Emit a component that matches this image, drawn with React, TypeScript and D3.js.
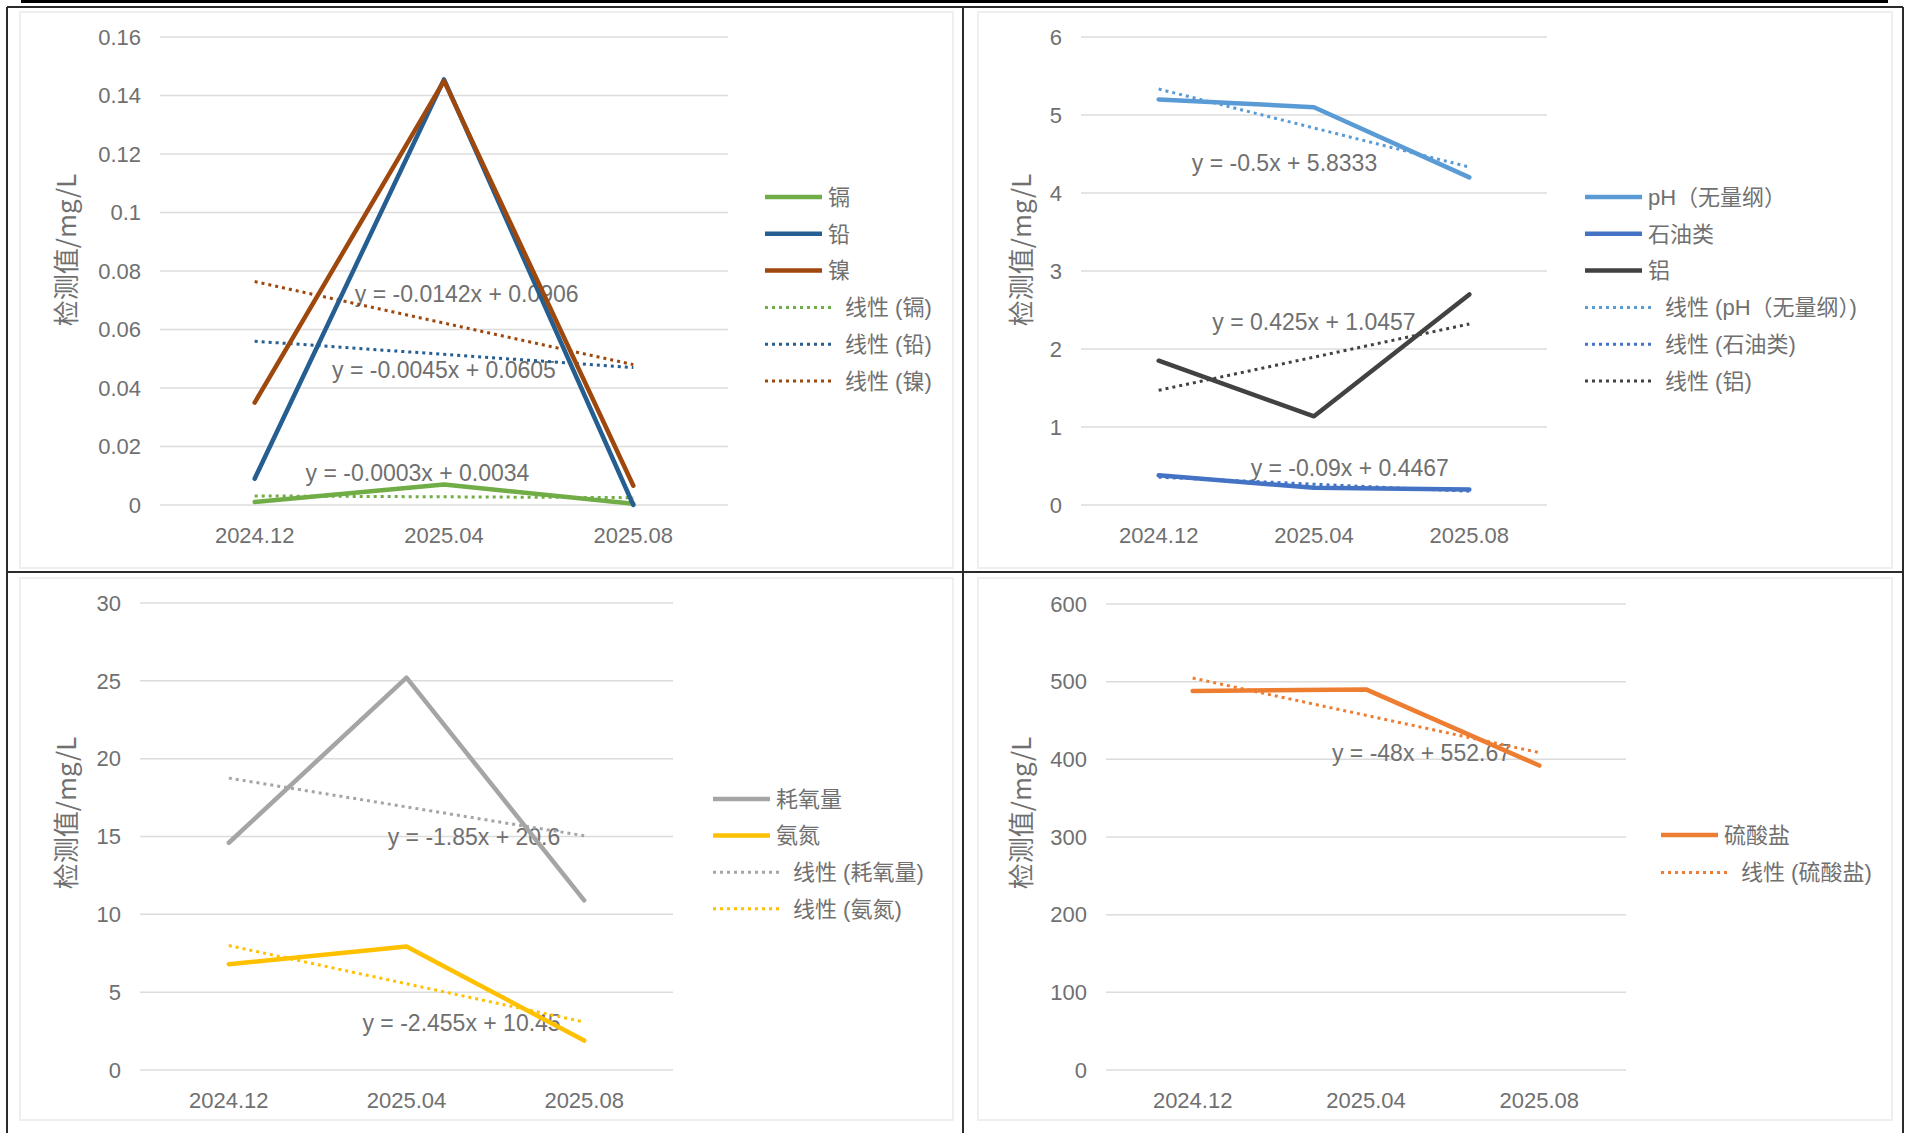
import React from 'react';
import * as d3 from 'd3';

// 监测批次
const periods = ['2024.12', '2025.04', '2025.08'];

// 重金属 (mg/L)
const cadmium = [0.001, 0.007, 0.0004];
const lead = [0.009, 0.1455, 0];
const nickel = [0.035, 0.145, 0.0066];

// pH、石油类、铝
const ph = [5.2, 5.1, 4.2];
const petroleum = [0.38, 0.22, 0.2];
const aluminium = [1.85, 1.137, 2.7];

// 耗氧量、氨氮
const oxygenDemand = [14.6, 25.2, 10.9];
const ammonia = [6.8, 7.93, 1.89];

// 硫酸盐
const sulfate = [488, 490, 392];

// 线性趋势线 [斜率, 截距]
const trendCadmium = [-0.0003, 0.0034];
const trendLead = [-0.0045, 0.0605];
const trendNickel = [-0.0142, 0.0906];
const trendPh = [-0.5, 5.8333];
const trendPetroleum = [-0.09, 0.4467];
const trendAluminium = [0.425, 1.0457];
const trendOxygen = [-1.85, 20.6];
const trendAmmonia = [-2.455, 10.45];
const trendSulfate = [-48, 552.67];

// 纵轴刻度
const ticksMetals = [0, 0.02, 0.04, 0.06, 0.08, 0.1, 0.12, 0.14, 0.16];
const ticksPh = [0, 1, 2, 3, 4, 5, 6];
const ticksOxygen = [0, 5, 10, 15, 20, 25, 30];
const ticksSulfate = [0, 100, 200, 300, 400, 500, 600];

type Series = {
  name: string;
  values: number[];
  trend: number[];
  color: string;
  eqAt: [number, number]; // 公式标签位置：[类别序号, 数值]
};

type Panel = {
  key: string;
  plot: { left: number; right: number; top: number; bottom: number };
  ticks: number[];
  series: Series[];
  legend: { x: number; y: number; step: number };
  title: [number, number];
  frame: [number, number, number, number];
};

const panels: Panel[] = [
  {
    key: 'metals',
    plot: { left: 160, right: 728, top: 37, bottom: 505 },
    ticks: ticksMetals,
    series: [
      { name: '镉', values: cadmium, trend: trendCadmium, color: '#70AD47', eqAt: [0.86, 0.0111] },
      { name: '铅', values: lead, trend: trendLead, color: '#255E91', eqAt: [1.0, 0.0462] },
      { name: '镍', values: nickel, trend: trendNickel, color: '#9E480E', eqAt: [1.12, 0.0721] },
    ],
    legend: { x: 765, y: 197, step: 36.8 },
    title: [67, 250],
    frame: [20, 12, 953, 568],
  },
  {
    key: 'ph',
    plot: { left: 1081, right: 1547, top: 37, bottom: 505 },
    ticks: ticksPh,
    series: [
      { name: 'pH（无量纲）', values: ph, trend: trendPh, color: '#5B9BD5', eqAt: [0.81, 4.39] },
      { name: '石油类', values: petroleum, trend: trendPetroleum, color: '#4472C4', eqAt: [1.23, 0.474] },
      { name: '铝', values: aluminium, trend: trendAluminium, color: '#424242', eqAt: [1.0, 2.35] },
    ],
    legend: { x: 1585, y: 197, step: 36.8 },
    title: [1022, 250],
    frame: [978, 12, 1892, 568],
  },
  {
    key: 'oxygen',
    plot: { left: 140, right: 673, top: 603, bottom: 1070 },
    ticks: ticksOxygen,
    series: [
      { name: '耗氧量', values: oxygenDemand, trend: trendOxygen, color: '#A5A5A5', eqAt: [1.38, 15.0] },
      { name: '氨氮', values: ammonia, trend: trendAmmonia, color: '#FFC000', eqAt: [1.31, 3.02] },
    ],
    legend: { x: 713, y: 799, step: 36.6 },
    title: [67, 813],
    frame: [20, 578, 953, 1120],
  },
  {
    key: 'sulfate',
    plot: { left: 1106, right: 1626, top: 604, bottom: 1070 },
    ticks: ticksSulfate,
    series: [
      { name: '硫酸盐', values: sulfate, trend: trendSulfate, color: '#ED7D31', eqAt: [1.32, 408] },
    ],
    legend: { x: 1661, y: 835, step: 37.5 },
    title: [1022, 813],
    frame: [978, 578, 1892, 1120],
  },
];

const FONT = "'Liberation Sans', 'Noto Sans CJK SC', sans-serif";
const TITLE_FONT = "'Noto Sans CJK SC', sans-serif";
const TEXT = '#707070';
const DOTS = '3 4';

function fmtEquation(t: number[]) {
  const [m, b] = t;
  return `y = ${m}x ${b < 0 ? '-' : '+'} ${Math.abs(b)}`;
}

function ChartPanel({ p }: { p: Panel }) {
  const { left, right, top, bottom } = p.plot;
  const yMax = p.ticks[p.ticks.length - 1];
  const x = d3.scalePoint<string>().domain(periods).range([left, right]).padding(0.5);
  const y = d3.scaleLinear().domain([0, yMax]).range([bottom, top]);
  const step = x.step();
  const xi = (i: number) => left + step * (0.5 + i);

  const line = d3
    .line<number>()
    .x((_, i) => x(periods[i]) as number)
    .y((v) => y(v));

  const trendPath = (t: number[]) =>
    d3
      .line<number>()
      .x((k) => xi(k - 1))
      .y((k) => y(t[0] * k + t[1]))([1, periods.length]) as string;

  const [fx0, fy0, fx1, fy1] = p.frame;

  return (
    <g>
      <rect x={fx0} y={fy0} width={fx1 - fx0} height={fy1 - fy0} fill="none" stroke="#efefef" strokeWidth={2} />
      {p.ticks.map((t) => (
        <g key={t}>
          <line x1={left} x2={right} y1={y(t)} y2={y(t)} stroke="#dcdcdc" strokeWidth={1.5} />
          <text x={left - 19} y={y(t)} dy="0.35em" textAnchor="end" fontSize={22} fill={TEXT} fontFamily={FONT}>
            {String(t)}
          </text>
        </g>
      ))}
      {periods.map((c) => (
        <text key={c} x={x(c)} y={bottom + 38} textAnchor="middle" fontSize={22} fill={TEXT} fontFamily={FONT}>
          {c}
        </text>
      ))}
      <text
        transform={`translate(${p.title[0]},${p.title[1]}) rotate(-90)`}
        dy="0.35em"
        textAnchor="middle"
        fontSize={26}
        fill={TEXT}
        fontFamily={TITLE_FONT}
      >
        检测值/mg/L
      </text>
      {p.series.map((s) => (
        <text
          key={'eq' + s.name}
          x={xi(s.eqAt[0])}
          y={y(s.eqAt[1])}
          dy="0.35em"
          textAnchor="middle"
          fontSize={23}
          fill={TEXT}
          fontFamily={FONT}
        >
          {fmtEquation(s.trend)}
        </text>
      ))}
      {p.series.map((s) => (
        <path
          key={'tr' + s.name}
          d={trendPath(s.trend)}
          fill="none"
          stroke={s.color}
          strokeWidth={3}
          strokeDasharray={DOTS}
        />
      ))}
      {p.series.map((s) => (
        <path
          key={'ln' + s.name}
          d={line(s.values) as string}
          fill="none"
          stroke={s.color}
          strokeWidth={4.5}
          strokeLinejoin="round"
          strokeLinecap="round"
        />
      ))}
      {p.series.map((s, i) => {
        const ly = p.legend.y + i * p.legend.step;
        return (
          <g key={'lg' + s.name}>
            <line x1={p.legend.x} x2={p.legend.x + 57} y1={ly} y2={ly} stroke={s.color} strokeWidth={4.5} />
            <text x={p.legend.x + 63} y={ly} dy="0.35em" fontSize={22} fill={TEXT} fontFamily={FONT}>
              {s.name}
            </text>
          </g>
        );
      })}
      {p.series.map((s, i) => {
        const ly = p.legend.y + (i + p.series.length) * p.legend.step;
        return (
          <g key={'lt' + s.name}>
            <line
              x1={p.legend.x}
              x2={p.legend.x + 68}
              y1={ly}
              y2={ly}
              stroke={s.color}
              strokeWidth={3}
              strokeDasharray={DOTS}
            />
            <text x={p.legend.x + 80} y={ly} dy="0.35em" fontSize={22} fill={TEXT} fontFamily={FONT}>
              {`线性 (${s.name})`}
            </text>
          </g>
        );
      })}
    </g>
  );
}

export default function App() {
  const W = 1910;
  const H = 1133;
  return (
    <svg
      width={W}
      height={H}
      style={{ position: 'absolute', left: 0, top: 0, background: '#fff' }}
      xmlns="http://www.w3.org/2000/svg"
    >
      <rect x={0} y={0} width={W} height={H} fill="#fff" />
      {panels.map((p) => (
        <ChartPanel key={p.key} p={p} />
      ))}
      {/* 表格边框 */}
      <line x1={21} x2={1888} y1={1.5} y2={1.5} stroke="#000" strokeWidth={3} />
      <line x1={7} x2={1903} y1={7} y2={7} stroke="#2b2b2b" strokeWidth={2} />
      <line x1={7} x2={1903} y1={572} y2={572} stroke="#2b2b2b" strokeWidth={2} />
      <line x1={7} x2={7} y1={7} y2={H} stroke="#2b2b2b" strokeWidth={2} />
      <line x1={963} x2={963} y1={7} y2={H} stroke="#2b2b2b" strokeWidth={2} />
      <line x1={1903} x2={1903} y1={7} y2={H} stroke="#2b2b2b" strokeWidth={2} />
    </svg>
  );
}
